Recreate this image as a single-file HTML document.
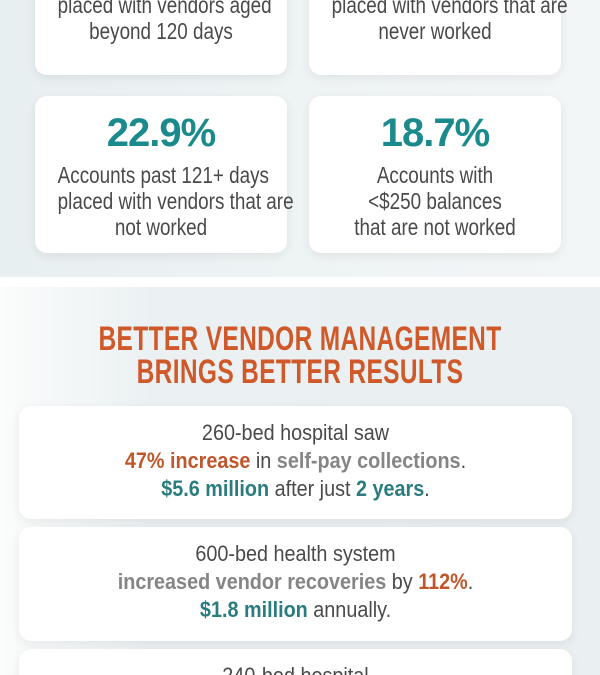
<!DOCTYPE html>
<html><head><meta charset="utf-8"><style>
*{margin:0;padding:0;box-sizing:border-box}
html,body{width:600px;height:675px;overflow:hidden}
body{background:#fff;font-family:"Liberation Sans",sans-serif;position:relative}
.sec1{position:absolute;left:0;top:0;width:600px;height:277px;background:linear-gradient(90deg,#e8eff1,#eef3f4 50%,#f3f6f7)}
.sec2{position:absolute;left:0;top:287px;width:600px;height:388px;background:linear-gradient(90deg,#fbfcfc,#ebf1f3 25%,#eaf0f2)}
.card{position:absolute;background:#fff;border-radius:12px;box-shadow:0 3px 10px rgba(0,0,0,.07);text-align:center;color:#4a4a4a}
.nar div{font-size:23px;line-height:26px;white-space:nowrap;transform:scaleX(0.82);transform-origin:center}
.big{font-weight:bold;color:#1a8a8c;font-size:40px;line-height:40px;letter-spacing:-1px}
h2{position:absolute;left:0;width:600px;top:323px;text-align:center;font-weight:bold;color:#d0592a;font-size:34px;line-height:33px;letter-spacing:0.5px}
h2 div{white-space:nowrap;transform:scaleX(0.72)}
.res div{font-size:22px;line-height:28px;white-space:nowrap;transform:scaleX(0.9)}
.o{color:#c0562c;font-weight:bold}.g{color:#858585;font-weight:bold}.t{color:#2b7c7e;font-weight:bold}
</style></head><body>
<div class="sec1"></div>
<div class="card nar" style="left:35px;top:-40px;width:252px;height:115px;padding-top:6px"><div>Overall accounts receivable</div><div>placed with vendors aged</div><div>beyond 120 days</div></div>
<div class="card nar" style="left:309px;top:-40px;width:252px;height:115px;padding-top:6px"><div>Accounts past 1-90 days</div><div>placed with vendors that are</div><div>never worked</div></div>
<div class="card" style="left:35px;top:96px;width:252px;height:157px;padding-top:17px">
<div class="big">22.9%</div>
<div class="nar" style="margin-top:9px"><div>Accounts past 121+ days</div><div>placed with vendors that are</div><div>not worked</div></div></div>
<div class="card" style="left:309px;top:96px;width:252px;height:157px;padding-top:17px">
<div class="big">18.7%</div>
<div class="nar" style="margin-top:9px"><div>Accounts with</div><div>&lt;$250 balances</div><div>that are not worked</div></div></div>
<div class="sec2"></div>
<h2><div>BETTER VENDOR MANAGEMENT</div><div>BRINGS BETTER RESULTS</div></h2>
<div class="card res" style="left:19px;top:406px;width:553px;height:113px;padding-top:13px"><div>260-bed hospital saw</div><div><span class="o">47% increase</span> in <span class="g">self-pay collections</span>.</div><div><span class="t">$5.6 million</span> after just <span class="t">2 years</span>.</div></div>
<div class="card res" style="left:19px;top:527px;width:553px;height:114px;padding-top:13px"><div>600-bed health system</div><div><span class="g">increased vendor recoveries</span> by <span class="o">112%</span>.</div><div><span class="t">$1.8 million</span> annually.</div></div>
<div class="card res" style="left:19px;top:649px;width:553px;height:60px;padding-top:13px"><div>240-bed hospital</div></div>
</body></html>
